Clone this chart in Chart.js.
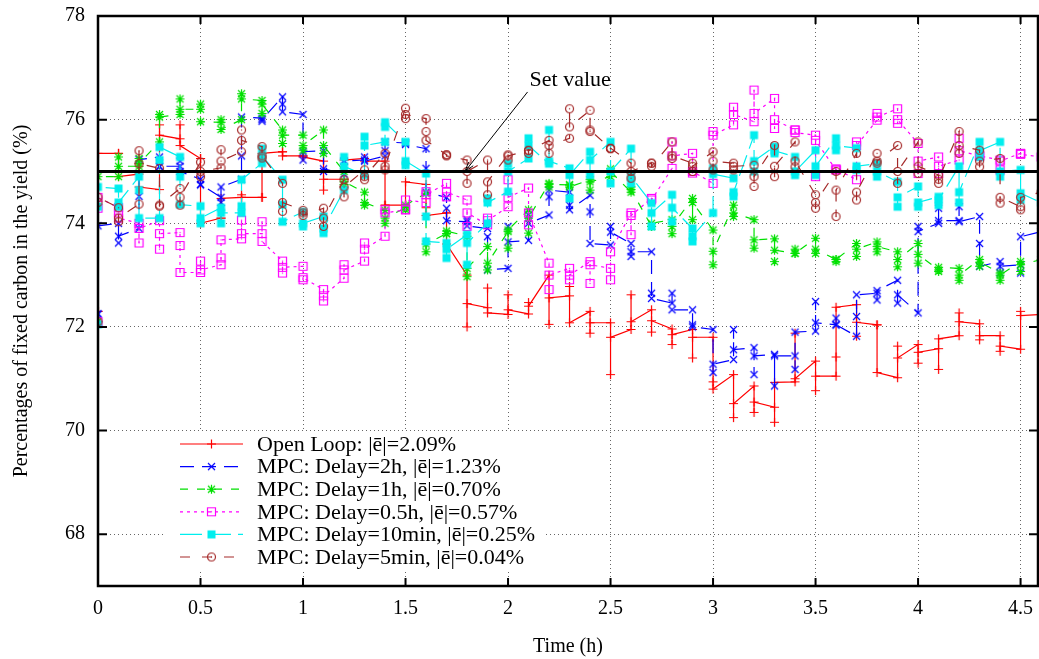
<!DOCTYPE html>
<html><head><meta charset="utf-8">
<script src="https://cdn.jsdelivr.net/npm/chart.js@4.4.1/dist/chart.umd.min.js"></script>
<style>html,body{margin:0;padding:0;background:#fff;}#wrap{width:1039px;height:659px;}</style>
</head><body><div id="wrap"><canvas id="c" width="1039" height="659"></canvas></div>
<script>
// ---- data (time in h, fixed carbon %) ----
const times = [0,0.1,0.2,0.3,0.4,0.5,0.6,0.7,0.8,0.9,1,1.1,1.2,1.3,1.4,1.5,1.6,1.7,1.8,1.9,2,2.1,2.2,2.3,2.4,2.5,2.6,2.7,2.8,2.9,3,3.1,3.2,3.3,3.4,3.5,3.6,3.7,3.8,3.9,4,4.1,4.2,4.3,4.4,4.5,4.6];
const xTickValues = [0,0.5,1,1.5,2,2.5,3,3.5,4,4.5];
const yTickValues = [68,70,72,74,76,78];
const SET_VALUE = 75;
const seriesLabels = ['Open Loop: |ē|=2.09%','MPC: Delay=2h, |ē|=1.23%','MPC: Delay=1h, |ē|=0.70%','MPC: Delay=0.5h, |ē|=0.57%','MPC: Delay=10min, |ē|=0.25%','MPC: Delay=5min, |ē|=0.04%'];

// three samples per 0.1 h step
const openLoop1 = [72.3,75.35,74.95,74.65,75.63,75.25,74.1,74.5,74.5,75.38,75.3,75.2,74.85,75.25,75.2,74.35,74.75,74.2,73.0,72.37,72.24,72.25,73.0,72.6,72.3,72.08,71.95,72.33,71.96,71.95,71.8,71.08,70.86,70.45,70.94,71.34,71.05,72.43,72.04,71.02,71.66,71.58,71.83,72.06,71.83,71.57,72.24];
const openLoop2 = [72.3,75.35,75.15,75.9,75.9,75.25,74.1,74.55,74.5,75.38,75.3,74.64,74.85,75.25,74.35,74.35,74.3,74.2,72.0,72.75,72.62,72.47,72.05,72.78,71.88,71.08,72.62,71.9,71.66,71.4,70.94,70.25,70.35,70.16,71.88,70.77,71.42,71.82,72.04,71.63,71.3,71.18,72.27,71.75,71.53,72.3,72.24];
const openLoop3 = [75.35,74.9,74.7,75.7,75.5,74.0,74.48,74.5,75.35,75.3,75.28,74.85,75.22,75.2,74.35,74.8,74.15,73.6,72.45,72.27,72.33,72.4,72.56,72.08,72.08,71.8,72.1,72.12,71.85,71.8,70.8,70.52,70.55,70.93,71.0,71.05,72.38,72.09,71.12,71.4,71.51,71.77,72.1,71.83,71.63,72.22,72.24];

const delay2h1 = [72.25,74.0,73.9,75.28,75.1,74.85,74.5,74.85,76.03,76.44,76.1,75.4,74.95,75.22,75.3,75.55,75.44,74.5,74.03,73.9,73.13,73.67,74.16,74.6,74.54,73.58,73.61,73.45,72.46,72.33,71.95,71.37,71.6,71.47,71.44,71.92,72.04,71.82,72.65,72.9,72.27,74.0,74.05,74.13,73.26,73.2,73.84];
const delay2h2 = [72.25,73.62,74.52,75.09,75.2,74.74,74.4,75.3,75.97,76.3,75.22,75.0,75.2,75.28,75.4,75.55,75.06,74.29,74.07,73.74,73.94,74.16,74.51,74.35,74.22,73.94,73.36,72.65,72.65,72.04,71.12,71.95,71.08,70.86,71.18,72.49,72.17,72.2,72.52,72.46,73.94,74.29,74.32,73.61,73.04,73.04,73.84];
const delay2h3 = [73.95,73.75,75.23,75.1,75.0,74.75,74.7,76.05,76.0,76.15,75.38,75.05,75.2,75.2,75.57,75.52,74.6,74.05,73.95,73.1,73.64,74.0,74.64,74.26,73.61,73.83,73.45,72.55,72.33,72.0,71.28,71.56,71.44,71.44,71.9,72.08,72.04,72.62,72.7,72.62,73.84,74.05,74.03,73.17,73.17,73.74,73.84];

const delay1h1 = [72.1,74.9,75.1,75.57,76.1,76.2,75.95,76.0,76.37,75.8,75.7,75.8,75.0,74.6,74.25,74.3,74.58,73.8,73.75,73.55,73.84,74.26,74.77,74.74,74.84,74.9,74.6,73.94,74.07,74.48,73.87,74.35,74.07,73.7,73.42,73.71,73.3,73.61,73.64,73.45,73.61,73.1,73.13,73.3,73.04,73.26,73.3];
const delay1h2 = [72.1,75.28,75.25,76.1,76.4,76.3,76.0,76.5,76.12,75.54,75.41,75.35,74.75,74.35,74.0,74.26,73.45,73.8,72.97,73.1,73.52,73.81,74.7,74.74,74.64,75.05,74.7,73.94,73.8,74.07,73.2,74.13,73.52,73.26,73.5,73.42,73.26,73.36,73.45,73.16,73.23,73.07,72.9,73.17,72.9,73.07,73.3];
const delay1h3 = [74.9,75.1,75.15,76.05,76.2,75.96,75.81,76.4,76.3,75.7,75.5,75.5,74.8,74.4,74.1,74.35,73.6,73.85,73.13,73.23,73.87,74.1,74.75,74.7,74.8,75.0,74.65,74.0,73.94,74.4,73.46,74.2,73.68,73.48,73.42,73.5,73.3,73.5,73.55,73.3,73.4,73.15,73.0,73.25,73.0,73.2,73.3];

const delayHalf1 = [72.1,74.3,74.0,74.05,73.82,73.05,73.2,73.7,73.8,73.27,73.17,72.72,72.94,73.27,73.75,74.26,74.4,74.77,74.45,73.97,74.32,74.68,73.23,73.13,73.26,73.13,74.2,74.48,75.06,75.35,74.77,75.9,75.96,76.41,75.8,75.7,75.03,74.84,75.99,76.21,75.54,75.28,75.22,75.3,75.22,75.35,75.28];
const delayHalf2 = [74.29,74.2,73.62,73.5,73.57,73.27,73.33,74.06,74.03,73.04,72.91,72.5,73.2,73.62,74.26,74.26,74.61,74.51,73.94,74.1,74.84,73.97,72.72,72.91,72.84,72.91,73.78,74.48,75.57,74.97,75.77,76.24,76.57,75.83,75.8,74.9,75.03,75.57,76.12,75.93,74.96,74.96,75.64,75.3,75.03,75.35,75.28];
const delayHalf3 = [74.5,74.1,73.9,73.8,73.05,73.1,73.68,73.8,73.65,73.15,72.95,72.6,73.1,73.5,74.2,74.45,74.55,74.6,74.2,74.05,74.5,74.2,73.0,73.0,73.2,73.45,74.15,74.45,75.3,75.0,75.7,76.1,76.12,76.0,75.75,75.6,75.05,75.5,76.05,76.0,75.2,75.1,75.4,75.3,75.2,75.33,75.28];

const delay10m1 = [72.05,74.67,74.9,74.1,75.28,74.33,74.3,74.2,75.16,74.84,74.22,74.13,74.64,74.93,75.57,75.57,74.96,73.62,73.78,74.0,74.61,75.25,75.15,75.06,75.38,75.57,75.44,74.39,74.55,73.9,74.2,74.87,75.7,75.48,75.28,75.41,75.64,75.45,75.15,74.8,74.71,74.51,75.1,75.57,75.57,75.03,74.4];
const delay10m2 = [74.32,74.32,74.64,75.22,74.9,74.0,74.0,74.33,75.44,74.36,73.94,73.81,75.28,75.67,75.86,75.12,74.13,73.33,73.2,74.48,75.15,75.64,75.8,74.48,74.93,74.77,74.77,73.94,74.03,73.65,75.06,74.52,75.0,75.35,74.93,74.93,75.41,75.03,74.9,74.32,74.32,74.35,74.4,75.28,74.9,74.45,74.4];
const delay10m3 = [74.7,74.4,74.1,75.47,74.36,74.1,74.2,74.84,75.3,74.03,74.0,73.9,75.1,75.5,75.95,75.2,73.65,73.5,73.62,74.4,75.0,75.5,75.2,74.93,75.22,75.0,74.9,74.2,74.3,73.75,74.95,74.6,75.2,75.4,75.0,75.1,75.5,75.1,75.0,74.5,74.4,74.45,74.6,75.4,75.0,74.58,74.4];

const delay5m1 = [72.1,74.3,74.37,75.06,74.67,75.18,75.07,75.38,75.48,74.77,74.25,74.29,74.84,75.03,75.35,76.22,76.02,75.32,75.22,75.22,75.32,75.41,75.6,75.64,76.18,75.44,75.16,75.16,75.57,75.16,75.38,75.16,75.12,75.5,75.57,74.55,75.0,75.35,75.35,75.5,75.57,74.93,75.77,75.41,75.25,74.32,74.6];
const delay5m2 = [74.4,74.03,75.4,74.33,74.35,74.9,75.42,75.8,75.26,74.23,74.2,73.94,74.51,74.84,75.03,76.02,75.77,75.32,74.77,74.55,75.22,75.35,75.35,76.21,75.77,75.44,74.87,75.16,75.25,75.0,75.03,75.03,74.71,74.9,75.09,74.29,74.13,74.45,75.16,74.77,74.96,74.77,75.35,75.09,74.39,74.26,74.6];
const delay5m3 = [74.5,74.1,75.15,74.35,74.5,75.0,75.2,75.6,75.3,74.4,74.15,74.1,74.7,74.9,75.1,76.1,75.6,75.3,75.0,74.8,75.3,75.4,75.5,75.86,75.8,75.45,75.0,75.1,75.3,75.1,75.2,75.1,74.9,75.1,75.2,74.4,74.64,74.6,75.2,75.0,75.1,74.85,75.5,75.2,74.5,74.5,74.6];

// ---- styling ----
const FONT = '"Liberation Serif","DejaVu Serif","Times New Roman",serif';
const X_MAX = 4.585;

function marker(kind, color){
  const S = 13, c = 6.5;
  const cv = document.createElement('canvas'); cv.width = S; cv.height = S;
  const g = cv.getContext('2d');
  g.strokeStyle = color; g.fillStyle = color; g.lineWidth = 1.2;
  g.beginPath();
  if (kind === 'plus' || kind === 'star') { g.moveTo(c-4.5,c); g.lineTo(c+4.5,c); g.moveTo(c,c-4.5); g.lineTo(c,c+4.5); }
  if (kind === 'cross' || kind === 'star') { g.moveTo(c-3.5,c-3.5); g.lineTo(c+3.5,c+3.5); g.moveTo(c-3.5,c+3.5); g.lineTo(c+3.5,c-3.5); }
  if (kind === 'sqOpen') { g.rect(c-4,c-4,8,8); }
  if (kind === 'circ') { g.arc(c,c,4,0,Math.PI*2); }
  if (kind === 'sqFill') { g.fillRect(c-4,c-4,8,8); }
  g.stroke();
  if (kind === 'sqOpen' || kind === 'circ') g.fillRect(c-0.6,c-0.6,1.2,1.2);
  return cv;
}

const styles = [
  {color:'#ff0000', dash:[], mk:'plus'},
  {color:'#0000ff', dash:[14,8], mk:'cross'},
  {color:'#00e000', dash:[8,9], mk:'star'},
  {color:'#ff00ff', dash:[3,4], mk:'sqOpen'},
  {color:'#00eeee', dash:[22,7], mk:'sqFill'},
  {color:'#a52a2a', dash:[10,12], mk:'circ'}
];
const sampleSets = [
  [openLoop1, openLoop2, openLoop3],
  [delay2h1, delay2h2, delay2h3],
  [delay1h1, delay1h2, delay1h3],
  [delayHalf1, delayHalf2, delayHalf3],
  [delay10m1, delay10m2, delay10m3],
  [delay5m1, delay5m2, delay5m3]
];
sampleSets.forEach((set,i)=>set.forEach(a=>{ if(a.length!==times.length) throw new Error('length mismatch series '+i+': '+a.length); }));

function path(set){
  const pts = [];
  for (let k = 0; k < times.length; k++) {
    pts.push({x:times[k], y:set[0][k]}, {x:times[k], y:set[1][k]}, {x:times[k], y:set[2][k]});
  }
  return pts;
}
styles.forEach(s => s.img = marker(s.mk, s.color));

const datasets = sampleSets.map((set,i)=>({
  label: seriesLabels[i],
  data: path(set),
  showLine: true,
  borderColor: styles[i].color,
  borderWidth: 1.2,
  borderDash: styles[i].dash,
  pointStyle: styles[i].img,
  pointRadius: 4,
  pointHoverRadius: 4,
  order: 10 - i
}));
datasets.push({
  label: 'Set value',
  data: [{x: times[0], y: SET_VALUE}, {x: times[times.length-1], y: SET_VALUE}],
  showLine: true, borderColor: '#000', borderWidth: 3, pointRadius: 0, order: -1
});

const PLOT_RIGHT = 1038;

const decor = {
  id: 'decor',
  afterLayout(chart){
    const x = chart.scales.x, a = chart.chartArea;
    x.right = PLOT_RIGHT; x.width = PLOT_RIGHT - x.left; x.configure();
    a.right = PLOT_RIGHT; a.width = PLOT_RIGHT - a.left;
  },
  afterDraw(chart){
    const {ctx, chartArea: a, scales: {x, y}} = chart;
    ctx.save();
    // frame
    ctx.strokeStyle = '#000'; ctx.lineWidth = 2.5; ctx.setLineDash([]);
    ctx.strokeRect(a.left, a.top, a.right - a.left, a.bottom - a.top);
    // inward ticks
    ctx.lineWidth = 2;
    ctx.beginPath();
    yTickValues.forEach(v => { const py = y.getPixelForValue(v); ctx.moveTo(a.left, py); ctx.lineTo(a.left + 9, py); ctx.moveTo(a.right, py); ctx.lineTo(a.right - 9, py); });
    xTickValues.forEach(v => { const px = x.getPixelForValue(v); ctx.moveTo(px, a.bottom); ctx.lineTo(px, a.bottom - 8); ctx.moveTo(px, a.top); ctx.lineTo(px, a.top + 8); });
    ctx.stroke();

    // legend
    ctx.fillStyle = '#fff';
    ctx.fillRect(166, 432, 380, 139);
    ctx.font = '22px ' + FONT; ctx.textBaseline = 'middle'; ctx.textAlign = 'left';
    styles.forEach((s,i) => {
      const ly = 444 + i * 22.6;
      ctx.strokeStyle = s.color; ctx.lineWidth = 1.2; ctx.setLineDash(s.dash);
      ctx.beginPath(); ctx.moveTo(180, ly); ctx.lineTo(243, ly); ctx.stroke();
      ctx.setLineDash([]);
      ctx.drawImage(s.img, 211.5 - s.img.width/2, ly - s.img.height/2);
      ctx.fillStyle = '#000';
      ctx.fillText(seriesLabels[i], 257, ly + 1);
    });

    // annotation
    const tipX = x.getPixelForValue(1.79), tipY = y.getPixelForValue(SET_VALUE);
    const txX = x.getPixelForValue(2.105), txY = y.getPixelForValue(76.65);
    ctx.fillStyle = '#000'; ctx.font = '22px ' + FONT; ctx.textBaseline = 'alphabetic';
    ctx.fillText('Set value', txX, txY);
    const sx = txX - 2, sy = txY + 6;
    ctx.strokeStyle = '#000'; ctx.lineWidth = 1;
    ctx.beginPath(); ctx.moveTo(sx, sy); ctx.lineTo(tipX, tipY); ctx.stroke();
    const ang = Math.atan2(tipY - sy, tipX - sx);
    ctx.beginPath();
    ctx.moveTo(tipX, tipY); ctx.lineTo(tipX - 10*Math.cos(ang - 0.3), tipY - 10*Math.sin(ang - 0.3));
    ctx.moveTo(tipX, tipY); ctx.lineTo(tipX - 10*Math.cos(ang + 0.3), tipY - 10*Math.sin(ang + 0.3));
    ctx.stroke();

    // axis titles
    ctx.font = '20px ' + FONT; ctx.textAlign = 'center'; ctx.textBaseline = 'middle';
    ctx.fillText('Time (h)', (a.left + a.right) / 2, 647);
    ctx.translate(22, (a.top + a.bottom) / 2);
    ctx.rotate(-Math.PI / 2);
    ctx.fillText('Percentages of fixed carbon in the yield (%)', 0, 0);
    ctx.restore();
  }
};

function noPad(s){ s.paddingTop = 0; s.paddingBottom = 0; s.paddingLeft = 0; s.paddingRight = 0; }

new Chart(document.getElementById('c'), {
  type: 'scatter',
  data: { datasets },
  options: {
    responsive: false, animation: false, devicePixelRatio: 1,
    layout: { padding: { top: 16, right: 1, left: 0, bottom: 0 } },
    plugins: { legend: { display: false }, tooltip: { enabled: false } },
    scales: {
      x: {
        type: 'linear', min: 0, max: X_MAX,
        afterBuildTicks: s => { s.ticks = xTickValues.map(v => ({value: v})); },
        afterFit: s => { s.height = 73; noPad(s); },
        ticks: { font: { family: FONT, size: 20 }, color: '#000', padding: 11, autoSkip: false, maxRotation: 0, callback: v => String(v) },
        grid: { color: 'rgba(0,0,0,0.6)', lineWidth: 1, drawTicks: false },
        border: { display: false, dash: [1, 3] }
      },
      y: {
        min: 67, max: 78,
        afterBuildTicks: s => { s.ticks = yTickValues.map(v => ({value: v})); },
        afterFit: s => { s.width = 98; noPad(s); },
        ticks: { font: { family: FONT, size: 20 }, color: '#000', padding: 13, callback: v => String(v) },
        grid: { color: 'rgba(0,0,0,0.6)', lineWidth: 1, drawTicks: false },
        border: { display: false, dash: [1, 3] }
      }
    }
  },
  plugins: [decor]
});
</script>
</body></html>
